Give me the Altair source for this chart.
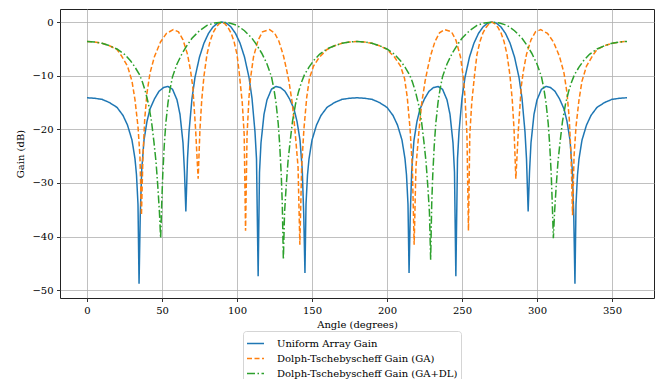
import altair as alt
import pandas as pd

SERIES = ["Uniform Array Gain", "Dolph-Tschebyscheff Gain (GA)", "Dolph-Tschebyscheff Gain (GA+DL)"]
COLORS = ["#1f77b4", "#ff7f0e", "#2ca02c"]

uniform_angle = [0, 5, 10, 15, 20, 24, 27, 30, 32, 33, 34, 34.7, 35.5, 36.5, 38, 40, 42, 45, 48, 51, 54, 57, 60, 62, 64, 65, 65.9, 67, 68, 70, 72, 75, 78, 81, 84, 87,
                 90, 93, 96, 99, 102, 105, 108, 110, 112, 113, 114.1, 115, 116, 118, 120, 123, 126, 129, 132, 135, 138, 140, 142, 143.5, 144.5, 145.3, 146, 147, 148, 150, 153, 156, 160, 165, 170, 175,
                 180, 185, 190, 195, 200, 204, 207, 210, 212, 213, 214, 214.7, 215.5, 216.5, 218, 220, 222, 225, 228, 231, 234, 237, 240, 242, 244, 245, 245.9, 247, 248, 250, 252, 255, 258, 261, 264, 267,
                 270, 273, 276, 279, 282, 285, 288, 290, 292, 293, 294.1, 295, 296, 298, 300, 303, 306, 309, 312, 315, 318, 320, 322, 323.5, 324.5, 325.3, 326, 327, 328, 330, 333, 336, 340, 345, 350, 355, 360]
uniform_gain = [-14.1, -14.2, -14.4, -15.0, -15.9, -17.4, -19.2, -22.0, -25.5, -28.5, -34.0, -48.8, -36.0, -27.5, -22.0, -18.5, -16.2, -14.3, -12.9, -12.2, -12.0, -12.5, -14.5, -17.2, -22.5, -28.0, -35.3, -25.5, -20.5, -14.2, -10.3, -6.5, -3.9, -2.1, -0.9, -0.2,
                0.0, -0.2, -0.9, -2.1, -3.9, -6.5, -10.3, -14.2, -20.5, -25.5, -47.4, -28.0, -22.5, -17.2, -14.5, -12.5, -12.0, -12.2, -12.9, -14.3, -16.2, -18.5, -22.0, -27.5, -36.0, -46.8, -34.0, -28.5, -25.5, -22.0, -19.2, -17.4, -15.9, -15.0, -14.4, -14.2,
                -14.1, -14.2, -14.4, -15.0, -15.9, -17.4, -19.2, -22.0, -25.5, -28.5, -34.0, -46.8, -36.0, -27.5, -22.0, -18.5, -16.2, -14.3, -12.9, -12.2, -12.0, -12.5, -14.5, -17.2, -22.5, -28.0, -47.4, -25.5, -20.5, -14.2, -10.3, -6.5, -3.9, -2.1, -0.9, -0.2,
                0.0, -0.2, -0.9, -2.1, -3.9, -6.5, -10.3, -14.2, -20.5, -25.5, -35.3, -28.0, -22.5, -17.2, -14.5, -12.5, -12.0, -12.2, -12.9, -14.3, -16.2, -18.5, -22.0, -27.5, -36.0, -48.8, -34.0, -28.5, -25.5, -22.0, -19.2, -17.4, -15.9, -15.0, -14.4, -14.2, -14.1]

ga_angle = [0, 5, 10, 15, 20, 23, 27, 30, 32, 34, 35.3, 36.3, 37.3, 38.5, 40, 42, 45, 49, 53, 57.5, 61, 64, 67, 69, 70.5, 72.4, 74.1, 75.3, 76.5, 78, 80, 82, 84, 86, 88,
            90, 92, 94, 96, 98, 100, 101.5, 103.5, 104.8, 105.7, 106.7, 108, 109, 111, 114, 117, 121.7, 125, 128, 131, 133, 134.6, 136.8, 138.6, 140.7, 141.9, 143.1, 144.6, 146.5, 148.3, 151, 155, 160, 165, 170, 175,
            180, 185, 190, 195, 200, 205, 209, 211.7, 213.5, 215.4, 216.9, 218.1, 219.3, 221.4, 223.2, 225.4, 227, 229, 232, 235, 238.3, 243, 246, 249, 251, 252, 253.3, 254.3, 255.2, 256.5, 258.5, 260, 262, 264, 266, 268,
            270, 272, 274, 276, 278, 280, 282, 283.5, 284.7, 285.9, 287.6, 289.5, 291, 293, 296, 299, 302.5, 307, 311, 315, 318, 320, 321.5, 322.7, 323.7, 324.7, 326, 328, 330, 333, 337, 340, 345, 350, 355, 360]
ga_gain = [-3.6, -3.7, -3.95, -4.4, -5.1, -6.3, -8.2, -11.0, -14.5, -19.5, -25.0, -36.0, -25.0, -18.0, -13.2, -9.5, -6.4, -3.7, -2.1, -1.4, -1.8, -3.3, -6.0, -9.0, -12.0, -20.0, -29.2, -20.0, -14.5, -10.0, -6.0, -3.6, -2.0, -1.0, -0.3,
           0.0, -0.3, -1.0, -2.0, -3.6, -6.0, -9.5, -15.0, -21.0, -38.9, -21.0, -14.0, -10.5, -6.5, -3.4, -1.8, -1.4, -2.0, -3.6, -6.3, -8.8, -11.0, -15.0, -20.0, -27.0, -41.5, -27.0, -20.0, -14.0, -10.5, -8.2, -6.5, -5.1, -4.4, -3.95, -3.7,
           -3.6, -3.7, -3.95, -4.4, -5.1, -6.5, -8.2, -10.5, -14.0, -20.0, -27.0, -41.5, -27.0, -20.0, -15.0, -11.0, -8.8, -6.3, -3.6, -2.0, -1.4, -1.8, -3.4, -6.5, -10.5, -14.0, -21.0, -38.9, -21.0, -15.0, -9.5, -6.0, -3.6, -2.0, -1.0, -0.3,
           0.0, -0.3, -1.0, -2.0, -3.6, -6.0, -10.0, -14.5, -20.0, -29.2, -20.0, -12.0, -9.0, -6.0, -3.3, -1.8, -1.4, -2.1, -3.7, -6.4, -9.5, -13.2, -18.0, -25.0, -36.0, -25.0, -19.5, -14.5, -11.0, -8.2, -6.3, -5.1, -4.4, -3.95, -3.7, -3.6]

dl_angle = [0, 5, 10, 15, 20, 25, 29, 32, 35, 37, 39, 41, 43, 44.6, 46, 47.3, 48.3, 49.1, 49.8, 50.5, 51.5, 52.5, 54, 55.5, 57, 60, 63.5, 67, 70, 75, 80, 85,
            90, 95, 100, 105, 110, 113, 116.5, 120, 123, 124.5, 126, 127.5, 128.5, 129.5, 130.2, 130.9, 131.7, 132.7, 134, 135.4, 137, 139, 141, 143, 145, 148, 151, 155, 160, 165, 170, 175,
            180, 185, 190, 195, 200, 205, 209, 212, 215, 217, 219, 221, 223, 224.6, 226, 227.3, 228.3, 229.1, 229.8, 230.5, 231.5, 232.5, 234, 235.5, 237, 240, 243.5, 247, 250, 255, 260, 265,
            270, 275, 280, 285, 290, 293, 296.5, 300, 303, 304.5, 306, 307.5, 308.5, 309.5, 310.2, 310.9, 311.7, 312.7, 314, 315.4, 317, 319, 321, 323, 325, 328, 331, 335, 340, 345, 350, 355, 360]
dl_gain = [-3.6, -3.7, -3.95, -4.4, -5.0, -6.0, -7.2, -8.4, -9.8, -11.2, -13.0, -15.3, -18.5, -22.3, -26.0, -31.0, -35.5, -40.3, -34.0, -28.5, -23.0, -19.0, -15.0, -12.3, -10.2, -7.8, -5.8, -4.2, -3.0, -1.6, -0.6, -0.15,
           0.0, -0.15, -0.6, -1.6, -3.0, -4.2, -5.8, -7.8, -10.2, -12.3, -15.0, -19.0, -23.0, -28.5, -34.0, -44.3, -35.5, -31.0, -26.0, -22.3, -18.5, -15.3, -13.0, -11.2, -9.8, -8.4, -7.2, -6.0, -5.0, -4.4, -3.95, -3.7,
           -3.6, -3.7, -3.95, -4.4, -5.0, -6.0, -7.2, -8.4, -9.8, -11.2, -13.0, -15.3, -18.5, -22.3, -26.0, -31.0, -35.5, -44.3, -34.0, -28.5, -23.0, -19.0, -15.0, -12.3, -10.2, -7.8, -5.8, -4.2, -3.0, -1.6, -0.6, -0.15,
           0.0, -0.15, -0.6, -1.6, -3.0, -4.2, -5.8, -7.8, -10.2, -12.3, -15.0, -19.0, -23.0, -28.5, -34.0, -40.3, -35.5, -31.0, -26.0, -22.3, -18.5, -15.3, -13.0, -11.2, -9.8, -8.4, -7.2, -6.0, -5.0, -4.4, -3.95, -3.7, -3.6]

frames = []
for name, ang, val in [(SERIES[0], uniform_angle, uniform_gain), (SERIES[1], ga_angle, ga_gain), (SERIES[2], dl_angle, dl_gain)]:
    frames.append(pd.DataFrame({"angle": ang, "gain": val, "series": name}))
df = pd.concat(frames, ignore_index=True)

FONT = "DejaVu Serif"

legend = alt.Legend(
    title=None, orient="none", legendX=183, legendY=322, direction="vertical",
    symbolType="stroke", symbolSize=289, symbolStrokeWidth=1.5, labelOffset=12,
    rowPadding=-1.5, padding=3, strokeColor="#d5d5d5", fillColor="white", cornerRadius=3,
    labelFont=FONT, labelFontSize=10, labelColor="black", labelLimit=400,
)

chart = alt.Chart(df).mark_line(strokeWidth=1.5, clip=True).encode(
    x=alt.X("angle:Q", scale=alt.Scale(domain=[-18, 378], nice=False, zero=False),
            axis=alt.Axis(values=[0, 50, 100, 150, 200, 250, 300, 350], title="Angle (degrees)", format="d", titlePadding=4)),
    y=alt.Y("gain:Q", scale=alt.Scale(domain=[-51.45, 2.45], nice=False, zero=False),
            axis=alt.Axis(values=[-50, -40, -30, -20, -10, 0], title="Gain (dB)", format="d",
                          labelExpr="replace(datum.label, '-', '\u2212')", titlePadding=6)),
    color=alt.Color("series:N", scale=alt.Scale(domain=SERIES, range=COLORS), legend=legend),
    strokeDash=alt.StrokeDash("series:N", scale=alt.Scale(domain=SERIES, range=[[1, 0], [5, 2.5], [8, 2.5, 1.5, 2.5]]), legend=legend),
    detail="series:N",
).properties(
    width=594, height=289,
    autosize=alt.AutoSizeParams(type="none"),
    padding={"left": 52, "top": 1, "right": 5, "bottom": 90},
).configure_view(
    stroke="#222222", strokeWidth=1,
).configure_axis(
    domain=False, grid=True, gridColor="#b0b0b0", gridWidth=0.8,
    tickColor="black", tickSize=3.5, tickWidth=0.8, labelPadding=3.5,
    labelFont=FONT, labelFontSize=10, labelColor="black",
    titleFont=FONT, titleFontSize=10, titleFontWeight="normal", titleColor="black",
)

chart.save("out.html", embed_options={"renderer": "svg", "actions": False})
